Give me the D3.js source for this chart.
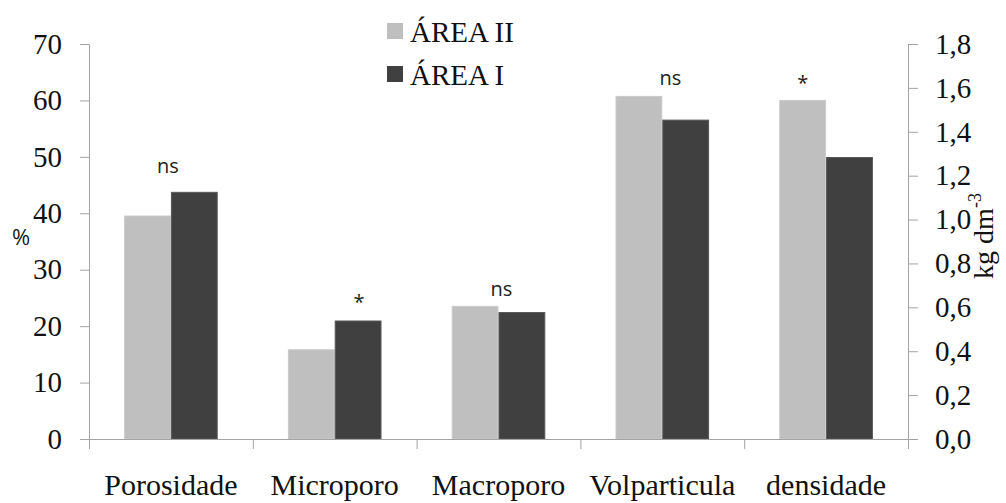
<!DOCTYPE html>
<html>
<head>
<meta charset="utf-8">
<script src="https://cdn.jsdelivr.net/npm/d3@7"></script>
<style>
  body { margin: 0; background: #fff; }
  svg { display: block; }
</style>
</head>
<body>
<svg id="chart" width="1006" height="503"></svg>
<script>
// Soil physical attributes for two areas
const categories = ["Porosidade", "Microporo", "Macroporo", "Volparticula", "densidade"];
const seriesNames = ["ÁREA II", "ÁREA I"];
const areaII = [39.6, 15.9, 23.6, 60.8, 1.545];
const areaI  = [43.8, 21.0, 22.5, 56.6, 1.285];
// densidade is read on the secondary axis (kg dm-3)
const onRightAxis = [false, false, false, false, true];
const significance = ["ns", "*", "ns", "ns", "*"];
const leftTicks = [0, 10, 20, 30, 40, 50, 60, 70];
const rightTicks = [0, 0.2, 0.4, 0.6, 0.8, 1.0, 1.2, 1.4, 1.6, 1.8];

// layout and style
const colors = ["#bfbfbf", "#404040"];
const edgeColors = ["#cacaca", "#585858"];
const axisColor = "#a3a3a3";
const serif = "'Liberation Serif', 'Times New Roman', serif";
const sans = "'Open Sans', 'Noto Sans', sans-serif";
const plot = { left: 89, right: 908, top: 44, bottom: 439 };
// nudges of the significance marks: [dx, gap above the taller bar]
const sigNudge = [[-3, 19], [1, 12], [3, 10], [8, 11], [0, 10]];

const svg = d3.select("#chart");

const x = d3.scaleBand().domain(categories).range([plot.left, plot.right]);
const xs = d3.scaleBand().domain(seriesNames).range([0, x.bandwidth()]).paddingOuter(0.75).paddingInner(0);
const yL = d3.scaleLinear().domain([0, 70]).range([plot.bottom, plot.top]);
const yR = d3.scaleLinear().domain([0, 1.8]).range([plot.bottom, plot.top]);
const yFor = i => onRightAxis[i] ? yR : yL;

const rows = categories.map((c, i) => ({
  cat: c, i,
  vals: [areaII[i], areaI[i]]
}));

// bars
const groups = svg.append("g").selectAll("g")
  .data(rows).join("g")
  .attr("transform", d => `translate(${x(d.cat)},0)`);

groups.selectAll("rect")
  .data(d => d.vals.map((v, k) => ({ v, k, i: d.i })))
  .join("rect")
  .attr("x", d => xs(seriesNames[d.k]) + 0.5)
  .attr("width", xs.bandwidth() - 1)
  .attr("y", d => yFor(d.i)(d.v) + 0.5)
  .attr("height", d => plot.bottom - yFor(d.i)(d.v) - 0.5)
  .attr("fill", d => colors[d.k])
  .attr("stroke", d => edgeColors[d.k])
  .attr("stroke-width", 1);

// significance marks
svg.append("g").selectAll("text")
  .data(rows).join("text")
  .attr("x", d => {
    const s = significance[d.i];
    let cx = x(d.cat) + x.bandwidth() / 2;
    if (s === "*") {
      const k = d.vals[0] >= d.vals[1] ? 0 : 1;
      cx = x(d.cat) + xs(seriesNames[k]) + xs.bandwidth() / 2;
    }
    return cx + sigNudge[d.i][0];
  })
  .attr("y", d => yFor(d.i)(Math.max(...d.vals)) - sigNudge[d.i][1])
  .attr("text-anchor", "middle")
  .attr("font-family", sans)
  .attr("font-size", 20)
  .attr("fill", "#222")
  .text(d => significance[d.i]);

function styleAxis(g) {
  g.selectAll("path.domain").attr("stroke", axisColor);
  g.selectAll(".tick line").attr("stroke", axisColor);
  g.selectAll("text").attr("font-family", serif).attr("fill", "#111");
}

// category axis: boundary ticks and labels
const bounds = d3.scaleLinear().domain([0, categories.length]).range([plot.left, plot.right]);
svg.append("g")
  .attr("transform", `translate(0,${plot.bottom})`)
  .call(d3.axisBottom(bounds).tickValues(d3.range(categories.length + 1)).tickFormat("").tickSize(10).tickSizeOuter(0))
  .call(styleAxis);

svg.append("g")
  .attr("transform", `translate(0,${plot.bottom})`)
  .call(d3.axisBottom(x).tickSize(0).tickPadding(35))
  .call(g => g.select("path.domain").remove())
  .call(styleAxis)
  .selectAll("text").attr("font-size", 30);

// left axis (%)
svg.append("g")
  .attr("transform", `translate(${plot.left},0)`)
  .call(d3.axisLeft(yL).tickValues(leftTicks).tickSize(9).tickSizeOuter(0).tickPadding(18).tickFormat(d3.format("d")))
  .call(styleAxis)
  .selectAll("text").attr("font-size", 29);

// right axis (kg dm-3)
const commaFmt = d => d3.format(".1f")(d).replace(".", ",");
svg.append("g")
  .attr("transform", `translate(${plot.right},0)`)
  .call(d3.axisRight(yR).tickValues(rightTicks).tickSize(10).tickSizeOuter(0).tickPadding(17).tickFormat(commaFmt))
  .call(styleAxis)
  .selectAll("text").attr("font-size", 29);

// axis titles
svg.append("text")
  .attr("x", 12).attr("y", 245)
  .attr("font-family", sans)
  .attr("font-size", 22)
  .attr("fill", "#1a1a1a")
  .text("%");

const rt = svg.append("text")
  .attr("transform", "translate(993,236) rotate(-90)")
  .attr("text-anchor", "middle")
  .attr("font-family", serif)
  .attr("font-size", 28)
  .attr("fill", "#111");
rt.append("tspan").text("kg dm");
rt.append("tspan").attr("font-size", 18).attr("dy", -12).text("-3");

// legend
const legend = svg.append("g").selectAll("g")
  .data(seriesNames).join("g")
  .attr("transform", (d, k) => `translate(387,${23 + k * 43})`);
legend.append("rect")
  .attr("width", 16).attr("height", 16)
  .attr("fill", (d, k) => colors[k]);
legend.append("text")
  .attr("x", 23).attr("y", 18.5)
  .attr("font-family", serif)
  .attr("font-size", 29)
  .attr("fill", "#111")
  .text(d => d);
</script>
</body>
</html>
